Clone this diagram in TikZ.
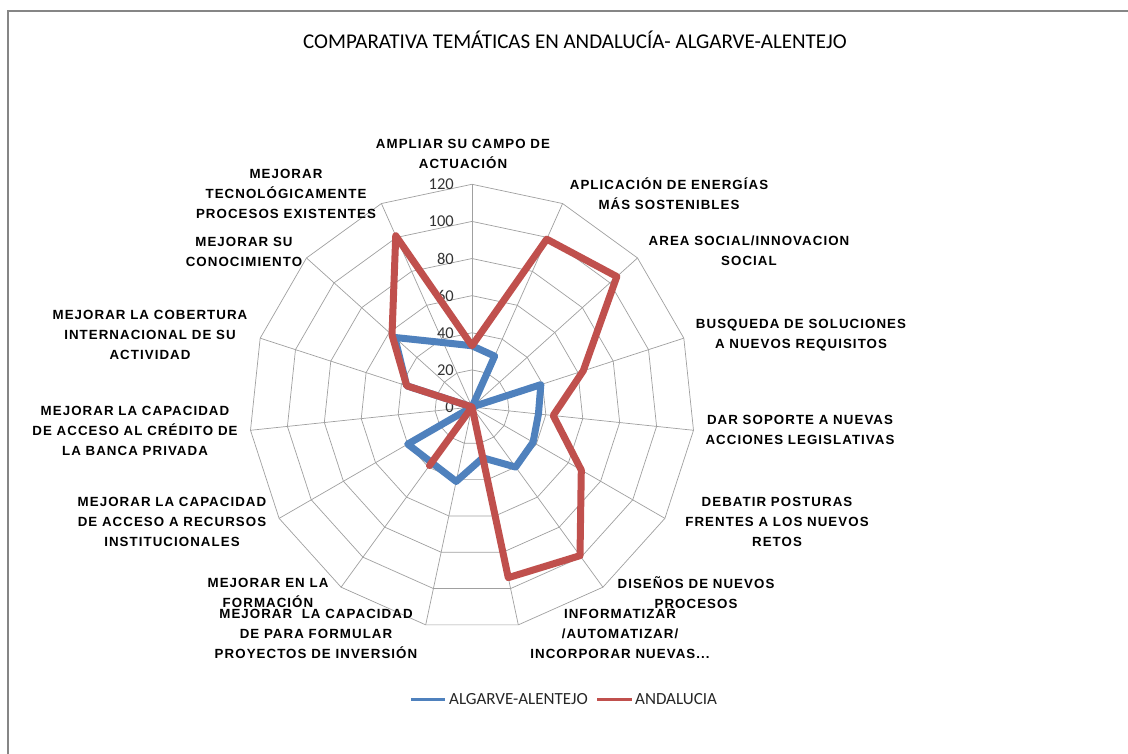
\documentclass[tikz,border=0pt]{standalone}
\usepackage{fontspec}
\setmainfont{Liberation Sans}
\newfontfamily\labfont[LetterSpace=8]{Liberation Sans}
\newfontfamily\calfont{Carlito}
\definecolor{gridc}{RGB}{160,160,160}
\definecolor{bluec}{RGB}{79,129,189}
\definecolor{redc}{RGB}{192,80,77}
\definecolor{framec}{RGB}{134,134,134}
\tikzset{
  axlabel/.style={font=\labfont\bfseries\fontsize{13.3}{20}\selectfont, align=center, inner sep=0pt},
  ticklab/.style={font=\calfont\fontsize{16.5}{18}\selectfont, text=black!80, anchor=east, inner sep=0pt},
  gridline/.style={draw=gridc, line width=0.7pt},
  series/.style={line width=7pt, line join=round, line cap=round},
  legline/.style={line width=3pt},
  legtext/.style={font=\calfont\fontsize{17}{20}\selectfont, anchor=west, inner sep=0pt, text=black!85},
}
\begin{document}
\begin{tikzpicture}[x=1pt,y=-1pt]
\useasboundingbox (0,0) rectangle (1128,753);
\fill[white] (0,0) rectangle (1128,753);
\draw[framec, line width=1.3pt] (8,780) -- (8,11) -- (1140,11);
\node[font=\calfont\fontsize{21}{24}\selectfont] (title) at (575,40) {COMPARATIVA TEMÁTICAS EN ANDALUCÍA- ALGARVE-ALENTEJO};
\def\cx{472}
\def\cy{407}
\def\u{1.856}
\coordinate (c) at (\cx,\cy);
% grid rings
\foreach \lv in {20,40,...,120} {
  \draw[gridline] plot[samples at={0,...,14}] ({\cx+\lv*\u*cos(90-24*\x)},{\cy-\lv*\u*sin(90-24*\x)}) -- cycle;
}
% spokes
\foreach \k in {0,...,14} {
  \coordinate (s\k) at ({\cx+120*\u*cos(90-24*\k)},{\cy-120*\u*sin(90-24*\k)});
  \draw[gridline] (c) -- (s\k);
}
% tick labels
\foreach \v in {0,20,...,120} {
  \node[ticklab] (t\v) at (454,{\cy-\v*\u}) {\v};
}
% data
\foreach \v [count=\i from 0] in {33,30,0,39,36,38,40,28,41,37,40,0,37,56,38} {
  \coordinate (b\i) at ({\cx+\v*\u*cos(90-24*\i)},{\cy-\v*\u*sin(90-24*\i)});
}
\foreach \v [count=\i from 0] in {33,99,105,63,44,68,99,94,0,39,0,0,37,58,101} {
  \coordinate (r\i) at ({\cx+\v*\u*cos(90-24*\i)},{\cy-\v*\u*sin(90-24*\i)});
}
\draw[series, bluec] (b0) -- (b1) -- (b2) -- (b3) -- (b4) -- (b5) -- (b6) -- (b7) -- (b8) -- (b9) -- (b10) -- (b11) -- (b12) -- (b13) -- (b14) -- cycle;
\draw[series, redc] (r0) -- (r1) -- (r2) -- (r3) -- (r4) -- (r5) -- (r6) -- (r7) -- (r8) -- (r9) -- (r10) -- (r11) -- (r12) -- (r13) -- (r14) -- cycle;
% axis labels
\node[axlabel] (l1) at (463,154) {AMPLIAR SU CAMPO DE\\ACTUACIÓN};
\node[axlabel] (l2) at (669,194) {APLICACIÓN DE ENERGÍAS\\MÁS SOSTENIBLES};
\node[axlabel] (l3) at (749,251) {AREA SOCIAL/INNOVACION\\SOCIAL};
\node[axlabel] (l4) at (801,335) {BUSQUEDA DE SOLUCIONES\\A NUEVOS REQUISITOS};
\node[axlabel] (l5) at (800,430) {DAR SOPORTE A NUEVAS\\ACCIONES LEGISLATIVAS};
\node[axlabel] (l6) at (777,522) {DEBATIR POSTURAS\\FRENTES A LOS NUEVOS\\RETOS};
\node[axlabel] (l7) at (696,593) {DISEÑOS DE NUEVOS\\PROCESOS};
\node[axlabel] (l8) at (620,634) {INFORMATIZAR\\/AUTOMATIZAR/\\INCORPORAR NUEVAS...};
\node[axlabel] (l9) at (316,634) {MEJORAR\ \ LA CAPACIDAD\\DE PARA FORMULAR\\PROYECTOS DE INVERSIÓN};
\node[axlabel] (l10) at (268,593) {MEJORAR EN LA\\FORMACIÓN};
\node[axlabel] (l11) at (172,522) {MEJORAR LA CAPACIDAD\\DE ACCESO A RECURSOS\\INSTITUCIONALES};
\node[axlabel] (l12) at (135,431) {MEJORAR LA CAPACIDAD\\DE ACCESO AL CRÉDITO DE\\LA BANCA PRIVADA};
\node[axlabel] (l13) at (150,335) {MEJORAR LA COBERTURA\\INTERNACIONAL DE SU\\ACTIVIDAD};
\node[axlabel] (l14) at (244,252) {MEJORAR SU\\CONOCIMIENTO};
\node[axlabel] (l15) at (286,194) {MEJORAR\\TECNOLÓGICAMENTE\\PROCESOS EXISTENTES};
% legend
\coordinate (lb1) at (411,699);
\coordinate (lb2) at (445,699);
\draw[legline, bluec] (lb1) -- (lb2);
\node[legtext] (lgb) at (449,699) {ALGARVE-ALENTEJO};
\coordinate (lr1) at (597,699);
\coordinate (lr2) at (632,699);
\draw[legline, redc] (lr1) -- (lr2);
\node[legtext] (lgr) at (635,699) {ANDALUCIA};
\end{tikzpicture}
\end{document}
